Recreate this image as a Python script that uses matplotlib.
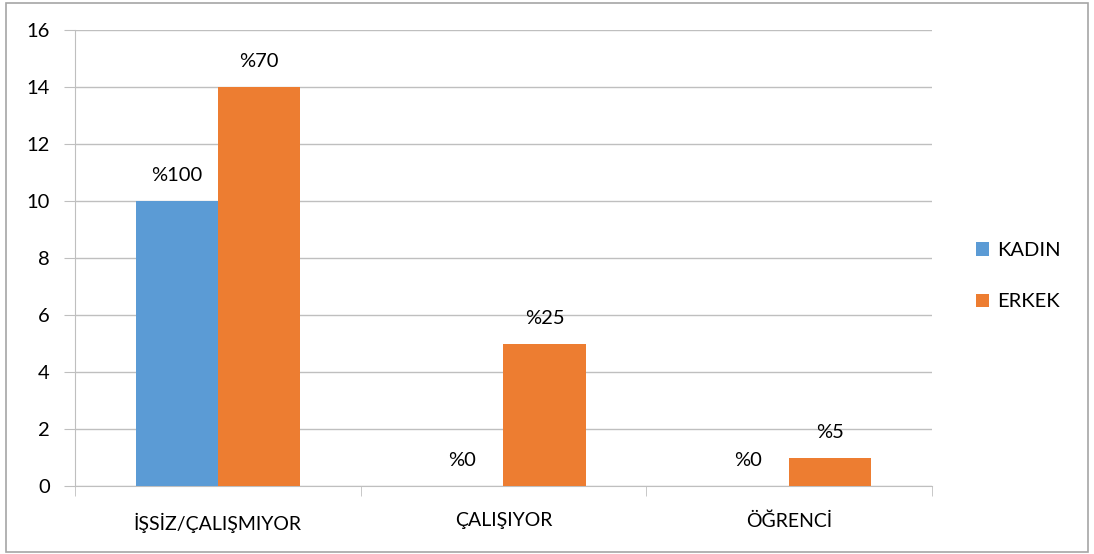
import numpy as np
import matplotlib.pyplot as plt
from matplotlib.patches import Rectangle

plt.rcParams['font.family'] = ['Lato', 'DejaVu Sans']

categories = ['İŞSİZ/ÇALIŞMIYOR', 'ÇALIŞIYOR', 'ÖĞRENCİ']
kadin = [10, 0, 0]
erkek = [14, 5, 1]
kadin_labels = ['%100', '%0', '%0']
erkek_labels = ['%70', '%25', '%5']
series_names = ['KADIN', 'ERKEK']

blue = '#5B9BD5'
orange = '#ED7D31'
grid_c = '#BFBFBF'

fig = plt.figure(figsize=(10.94, 5.54), dpi=100)
fig.patches.append(Rectangle((6 / 1094, 2 / 554), 1082 / 1094, 549 / 554,
                             transform=fig.transFigure, fill=False,
                             edgecolor='#A6A6A6', linewidth=1.2))

ax = fig.add_axes([75 / 1094, 68 / 554, 857 / 1094, 456 / 554])

x = np.arange(len(categories))
w = 82 / 285
ax.bar(x - w / 2, kadin, w, color=blue, label=series_names[0], zorder=3)
ax.bar(x + w / 2, erkek, w, color=orange, label=series_names[1], zorder=3)

for i in range(len(categories)):
    ax.annotate(kadin_labels[i], (x[i] - w / 2, kadin[i]), xytext=(0, 12),
                textcoords='offset points', ha='center', va='bottom', fontsize=14.5)
    ax.annotate(erkek_labels[i], (x[i] + w / 2, erkek[i]), xytext=(0, 12),
                textcoords='offset points', ha='center', va='bottom', fontsize=14.5)

ax.set_xlim(-0.5, len(categories) - 0.5)
ax.set_ylim(0, 16)
ax.set_yticks(range(0, 17, 2))
ax.yaxis.grid(True, color=grid_c, linewidth=1, zorder=0)
ax.tick_params(axis='y', length=8, color=grid_c, labelsize=14.5, pad=10)

ax.set_xticks(x)
ax.set_xticklabels(categories, fontsize=14)
ax.set_xticks(np.arange(-0.5, len(categories)), minor=True)
ax.tick_params(axis='x', which='major', length=0, pad=19)
ax.tick_params(axis='x', which='minor', length=7, color=grid_c)

for s in ['top', 'right']:
    ax.spines[s].set_visible(False)
ax.spines['left'].set_color(grid_c)
ax.spines['bottom'].set_color(grid_c)

ax.legend(loc='center left', bbox_to_anchor=(1.03, 0.46), frameon=False,
          fontsize=14.5, handlelength=0.65, handleheight=0.65, handletextpad=0.4,
          labelspacing=1.7)

plt.savefig('out.png', dpi=100)
